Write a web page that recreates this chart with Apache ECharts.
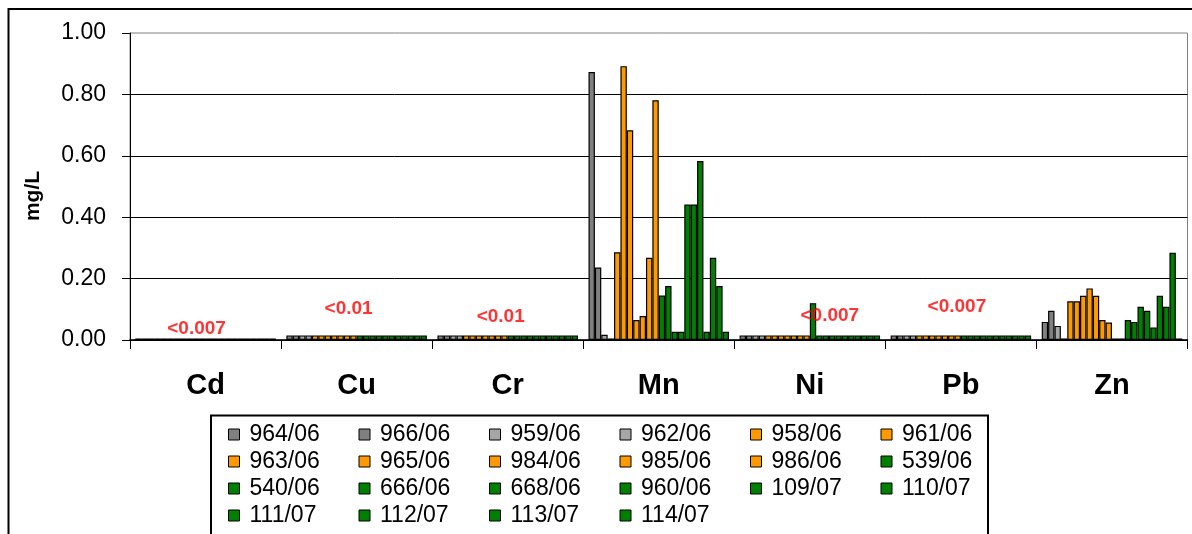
<!DOCTYPE html>
<html>
<head>
<meta charset="utf-8">
<script src="https://cdn.jsdelivr.net/npm/echarts@6/dist/echarts.min.js"></script>
<style>
html,body{margin:0;padding:0;background:#fff;}
#chart{width:1192px;height:534px;}
</style>
</head>
<body>
<div id="chart"></div>
<script>
// ---- data ----
var categories = ['Cd', 'Cu', 'Cr', 'Mn', 'Ni', 'Pb', 'Zn'];
var seriesNames = ['964/06','966/06','959/06','962/06','958/06','961/06','963/06','965/06','984/06','985/06','986/06',
                   '539/06','540/06','666/06','668/06','960/06','109/07','110/07','111/07','112/07','113/07','114/07'];
// values per series over [Cd, Cu, Cr, Mn, Ni, Pb, Zn] (mg/L)
var v964_06 = [0.005, 0.015, 0.015, 0.873, 0.015, 0.015, 0.059];
var v966_06 = [0.005, 0.015, 0.015, 0.236, 0.015, 0.015, 0.095];
var v959_06 = [0.005, 0.015, 0.015, 0.017, 0.015, 0.015, 0.046];
var v962_06 = [0.005, 0.015, 0.015, 0.005, 0.015, 0.015, 0.005];
var v958_06 = [0.005, 0.015, 0.015, 0.286, 0.015, 0.015, 0.126];
var v961_06 = [0.005, 0.015, 0.015, 0.892, 0.015, 0.015, 0.126];
var v963_06 = [0.005, 0.015, 0.015, 0.683, 0.015, 0.015, 0.144];
var v965_06 = [0.005, 0.015, 0.015, 0.065, 0.015, 0.015, 0.168];
var v984_06 = [0.005, 0.015, 0.015, 0.078, 0.015, 0.015, 0.144];
var v985_06 = [0.005, 0.015, 0.015, 0.268, 0.015, 0.015, 0.065];
var v986_06 = [0.005, 0.015, 0.015, 0.781, 0.015, 0.015, 0.057];
var v539_06 = [0.005, 0.015, 0.015, 0.145, 0.120, 0.015, 0.005];
var v540_06 = [0.005, 0.015, 0.015, 0.176, 0.015, 0.015, 0.005];
var v666_06 = [0.005, 0.015, 0.015, 0.027, 0.015, 0.015, 0.065];
var v668_06 = [0.005, 0.015, 0.015, 0.027, 0.015, 0.015, 0.059];
var v960_06 = [0.005, 0.015, 0.015, 0.441, 0.015, 0.015, 0.108];
var v109_07 = [0.005, 0.015, 0.015, 0.441, 0.015, 0.015, 0.095];
var v110_07 = [0.005, 0.015, 0.015, 0.583, 0.015, 0.015, 0.041];
var v111_07 = [0.005, 0.015, 0.015, 0.027, 0.015, 0.015, 0.144];
var v112_07 = [0.005, 0.015, 0.015, 0.268, 0.015, 0.015, 0.108];
var v113_07 = [0.005, 0.015, 0.015, 0.176, 0.015, 0.015, 0.284];
var v114_07 = [0.005, 0.015, 0.015, 0.027, 0.015, 0.015, 0.005];
var seriesValues = [v964_06, v966_06, v959_06, v962_06, v958_06, v961_06, v963_06, v965_06, v984_06, v985_06, v986_06,
                    v539_06, v540_06, v666_06, v668_06, v960_06, v109_07, v110_07, v111_07, v112_07, v113_07, v114_07];
var yTicks = ['0.00', '0.20', '0.40', '0.60', '0.80', '1.00'];
// detection-limit annotations: category, text, level (mg/L)
var noteCategories = ['Cd', 'Cu', 'Cr', 'Ni', 'Pb'];
var noteTexts = ['<0.007', '<0.01', '<0.01', '<0.007', '<0.007'];
var noteLevels = [0.038, 0.101, 0.075, 0.079, 0.108];

// ---- styles ----
var groupColors = ['#808080','#808080','#a6a6a6','#a6a6a6',
  '#ff9900','#ff9900','#ff9900','#ff9900','#ff9900','#ff9900','#ff9900',
  '#008000','#008000','#008000','#008000','#008000','#008000','#008000','#008000','#008000','#008000','#008000'];
var noteOffsets = [[-9, 0], [-8, 0], [-7, 0], [20, 0], [-4, 0]];
var FONT = 'Arial, "Liberation Sans", Helvetica, sans-serif';

var series = seriesNames.map(function (name, i) {
  return {
    name: name,
    type: 'bar',
    data: seriesValues[i],
    barGap: '0%',
    barCategoryGap: '7%',
    itemStyle: { color: groupColors[i], borderColor: '#000', borderWidth: 1.2 },
    emphasis: { disabled: true },
    animation: false
  };
});
series.push({
  name: 'notes',
  type: 'scatter',
  symbolSize: 1,
  itemStyle: { color: 'rgba(0,0,0,0)' },
  silent: true,
  animation: false,
  data: noteCategories.map(function (c, i) {
    return {
      value: [c, noteLevels[i]],
      label: {
        show: true,
        position: 'inside',
        offset: noteOffsets[i],
        formatter: noteTexts[i],
        color: '#ff0000',
        fontWeight: 'bold',
        fontSize: 19,
        fontFamily: FONT
      }
    };
  }),
  z: 10
});

var chart = echarts.init(document.getElementById('chart'), null, { renderer: 'canvas' });
chart.setOption({
  backgroundColor: '#fff',
  animation: false,
  grid: {
    left: 130, right: 4.5, top: 33, bottom: 194,
    show: true, borderColor: '#808080', borderWidth: 1, backgroundColor: 'transparent'
  },
  legend: {
    data: seriesNames,
    left: 228,
    top: 421,
    width: 800,
    padding: 0,
    itemGap: 0,
    itemWidth: 11,
    itemHeight: 11,
    icon: 'rect',
    itemStyle: { borderColor: '#000', borderWidth: 1 },
    selectedMode: false,
    textStyle: {
      fontSize: 23, fontFamily: FONT, color: '#000',
      width: 109, lineHeight: 27, padding: [0, 0, 0, 5]
    }
  },
  xAxis: {
    type: 'category',
    data: categories,
    axisLine: { show: true, lineStyle: { color: '#000', width: 1.5 } },
    axisTick: { show: true, length: 9, lineStyle: { color: '#000' } },
    axisLabel: { fontSize: 29, fontWeight: 'bold', fontFamily: FONT, color: '#000', margin: 31 },
    splitLine: { show: false }
  },
  yAxis: {
    type: 'value',
    min: 0, max: 1, interval: 0.2,
    axisLine: { show: true, lineStyle: { color: '#000', width: 1 } },
    axisTick: { show: true, length: 8, lineStyle: { color: '#000' } },
    axisLabel: {
      fontSize: 23, fontFamily: FONT, color: '#000', margin: 24,
      formatter: function (v) { return yTicks[Math.round(v / 0.2)]; }
    },
    splitLine: { show: true, showMaxLine: false, lineStyle: { color: '#000', width: 1 } }
  },
  graphic: [
    { type: 'rect', shape: { x: 8.5, y: 9, width: 1400, height: 800 },
      style: { fill: 'none', stroke: '#000', lineWidth: 2 }, silent: true, z: -1 },
    { type: 'rect', shape: { x: 211, y: 415.5, width: 777, height: 400 },
      style: { fill: 'none', stroke: '#000', lineWidth: 2 }, silent: true },
    { type: 'text', x: 33, y: 196, rotation: Math.PI / 2,
      style: { text: 'mg/L', fontSize: 21, fontWeight: 'bold', fontFamily: FONT, fill: '#000',
               align: 'center', verticalAlign: 'middle' }, silent: true }
  ],
  series: series
});
</script>
</body>
</html>
